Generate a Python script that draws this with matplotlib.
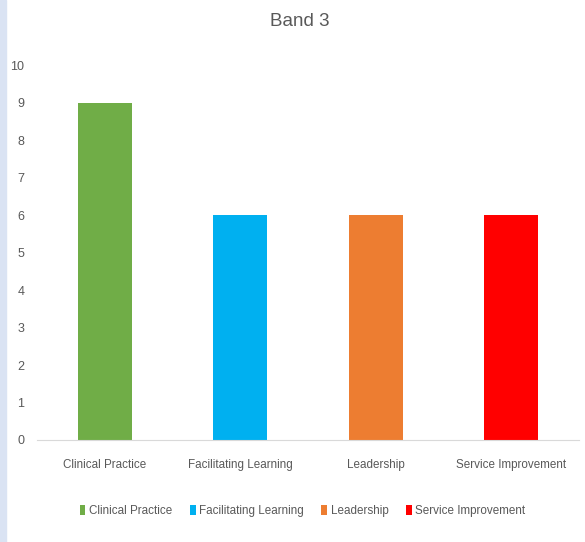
import matplotlib.pyplot as plt
from matplotlib.patches import Rectangle

categories = ["Clinical Practice", "Facilitating Learning", "Leadership", "Service Improvement"]
values = [9, 6, 6, 6]
colors = ["#70AD47", "#00B0F0", "#ED7D31", "#FF0000"]
yticks = list(range(0, 11))

plt.rcParams['font.family'] = ['Liberation Sans', 'DejaVu Sans']

fig = plt.figure(figsize=(5.85, 5.42), dpi=100)
# light blue strip on the left edge
fig.patches.append(Rectangle((0, 0), 6 / 585, 1, transform=fig.transFigure,
                             color="#DAE3F3", zorder=0))
ax = fig.add_axes([0.0632, 0.1882, 0.9265, 0.6918])

x = list(range(len(categories)))
bars = ax.bar(x, values, width=0.4, color=colors, label=categories)

ax.set_xlim(-0.5, len(categories) - 0.5)
ax.set_ylim(0, 10)
ax.set_yticks(yticks)
ax.set_xticks(x)
ax.set_xticklabels(categories)
ax.tick_params(axis="both", length=0, colors="#595959")
ax.tick_params(axis="x", pad=14, labelsize=8.4)
ax.tick_params(axis="y", pad=9, labelsize=9)

for s in ["top", "right", "left"]:
    ax.spines[s].set_visible(False)
ax.spines["bottom"].set_color("#D9D9D9")

fig.text(0.513, 1 - 21 / 542, "Band 3", ha="center", va="center",
         fontsize=13.5, color="#595959")

leg = fig.legend(bars, categories, loc="center", bbox_to_anchor=(0.517, 1 - 511 / 542),
                 ncol=4, frameon=False, fontsize=8.4, handlelength=0.5,
                 handleheight=0.9, handletextpad=0.3, columnspacing=1.5)
for t in leg.get_texts():
    t.set_color("#595959")

fig.savefig("out.png", dpi=100)
